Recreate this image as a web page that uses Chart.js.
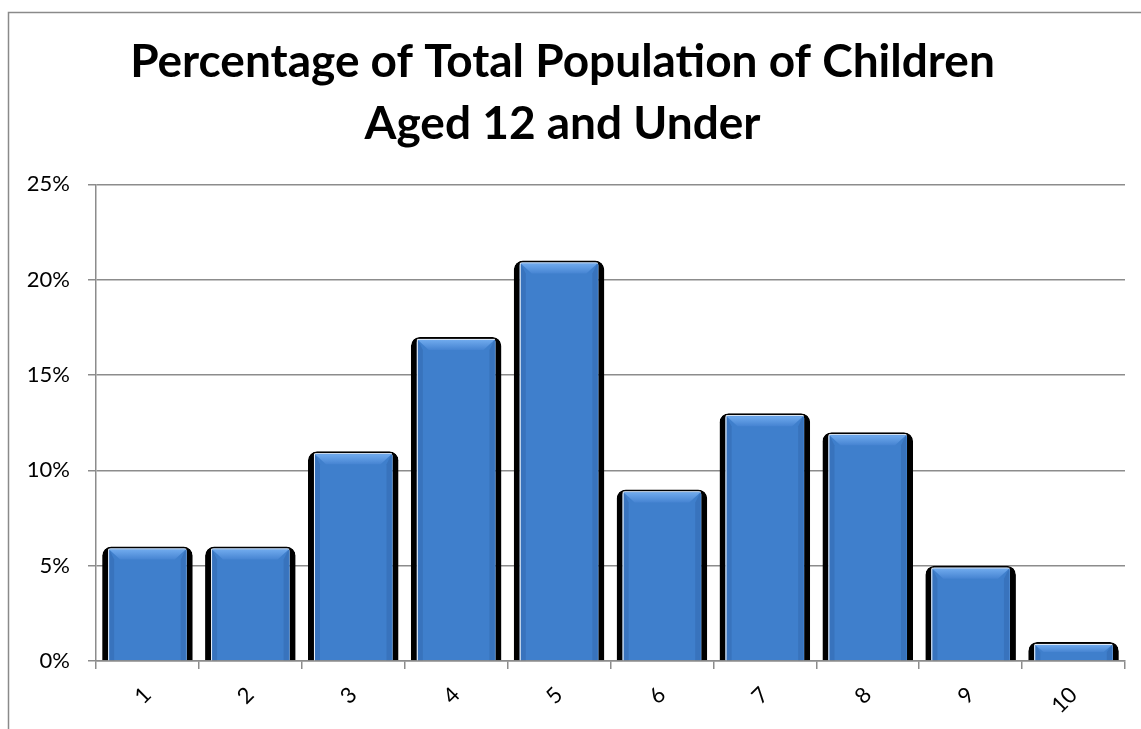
<!DOCTYPE html>
<html>
<head>
<meta charset="utf-8">
<script src="https://cdn.jsdelivr.net/npm/chart.js@4/dist/chart.umd.min.js"></script>
<style>
  html, body { margin: 0; padding: 0; background: #fff; }
  #wrap { width: 1141px; height: 729px; }
</style>
</head>
<body>
<div id="wrap"><canvas id="myChart" width="1141" height="729"></canvas></div>
<script>
const categories = ['1', '2', '3', '4', '5', '6', '7', '8', '9', '10'];
const percentValues = [6, 6, 11, 17, 21, 9, 13, 12, 5, 1];
const yTicks = [0, 5, 10, 15, 20, 25];

const FONT = "Lato, 'Open Sans', sans-serif";
const AXIS_GREY = '#8c8c8c';

// outer frame of the chart (left and top edges visible in the picture)
const framePlugin = {
  id: 'frame',
  beforeDraw(chart) {
    const ctx = chart.ctx;
    ctx.save();
    ctx.strokeStyle = '#8a8a8a';
    ctx.lineWidth = 1.5;
    ctx.beginPath();
    ctx.moveTo(8.5, chart.height);
    ctx.lineTo(8.5, 12.5);
    ctx.lineTo(chart.width, 12.5);
    ctx.stroke();
    ctx.restore();
  }
};

// bevel look on each bar, using the bar elements placed by the scales
const bevelPlugin = {
  id: 'bevel',
  afterDatasetsDraw(chart) {
    const ctx = chart.ctx;
    const meta = chart.getDatasetMeta(0);
    ctx.save();
    meta.data.forEach(bar => {
      const p = bar.getProps(['x', 'y', 'base', 'width'], true);
      const l = p.x - p.width / 2 + 6;
      const r = p.x + p.width / 2 - 6;
      const t = p.y + 2;
      const b = p.base;
      const h = b - t;
      const e = Math.min(11, h / 2);
      // thin white rim
      ctx.strokeStyle = 'rgba(255,255,255,0.9)';
      ctx.lineWidth = 1;
      ctx.beginPath();
      ctx.moveTo(l + 0.5, b);
      ctx.lineTo(l + 0.5, t + 0.5);
      ctx.lineTo(r - 0.5, t + 0.5);
      ctx.stroke();
      // top light band
      const g = ctx.createLinearGradient(0, t, 0, t + e);
      g.addColorStop(0, '#74aef0');
      g.addColorStop(1, '#4684d2');
      ctx.fillStyle = g;
      ctx.beginPath();
      ctx.moveTo(l + 1, t + 1);
      ctx.lineTo(r - 1, t + 1);
      ctx.lineTo(r - 1 - e, t + e);
      ctx.lineTo(l + 1 + e, t + e);
      ctx.closePath();
      ctx.fill();
      // side shading
      const s = Math.min(5, e);
      ctx.fillStyle = 'rgba(30,70,130,0.2)';
      ctx.beginPath();
      ctx.moveTo(l + 1, t + 1);
      ctx.lineTo(l + 1 + s, t + e);
      ctx.lineTo(l + 1 + s, b);
      ctx.lineTo(l + 1, b);
      ctx.closePath();
      ctx.fill();
      ctx.beginPath();
      ctx.moveTo(r - 1, t + 1);
      ctx.lineTo(r - 1 - s, t + e);
      ctx.lineTo(r - 1 - s, b);
      ctx.lineTo(r - 1, b);
      ctx.closePath();
      ctx.fill();
    });
    ctx.restore();
  }
};

const data = {
  labels: categories,
  datasets: [{
    data: percentValues,
    backgroundColor: '#3f7fcc',
    borderColor: '#000',
    borderWidth: { left: 6, right: 6, top: 2, bottom: 0 },
    borderRadius: { topLeft: 9, topRight: 9, bottomLeft: 0, bottomRight: 0 },
    borderSkipped: 'bottom',
    categoryPercentage: 1.0,
    barPercentage: 0.88
  }]
};

const config = {
  type: 'bar',
  data: data,
  plugins: [framePlugin, bevelPlugin],
  options: {
    responsive: false,
    animation: false,
    layout: { padding: { left: 0, right: 16, top: 0, bottom: 0 } },
    plugins: {
      legend: { display: false },
      tooltip: { enabled: false },
      title: {
        display: true,
        text: ['Percentage of Total Population of Children', 'Aged 12 and Under'],
        color: '#000',
        font: { size: 46, weight: 'bold', family: FONT, lineHeight: 1.33 },
        padding: { top: 32, bottom: 30 }
      }
    },
    scales: {
      x: {
        grid: {
          offset: true,
          drawOnChartArea: false,
          color: AXIS_GREY,
          tickLength: 8,
          lineWidth: 1.5
        },
        border: { color: AXIS_GREY, width: 1.5 },
        ticks: {
          color: '#000',
          font: { size: 22, family: FONT },
          minRotation: 45,
          maxRotation: 45,
          padding: 13
        },
        afterFit(scale) { scale.height = 68; }
      },
      y: {
        min: 0,
        max: 25,
        afterBuildTicks(scale) { scale.ticks = yTicks.map(v => ({ value: v })); },
        grid: { color: AXIS_GREY, tickLength: 8, lineWidth: 1.5 },
        border: { color: AXIS_GREY, width: 1.5 },
        ticks: {
          color: '#000',
          font: { size: 22, family: FONT },
          padding: 18,
          callback: v => v + '%'
        },
        afterFit(scale) { scale.width = 96; }
      }
    }
  }
};

new Chart(document.getElementById('myChart'), config);
</script>
</body>
</html>
